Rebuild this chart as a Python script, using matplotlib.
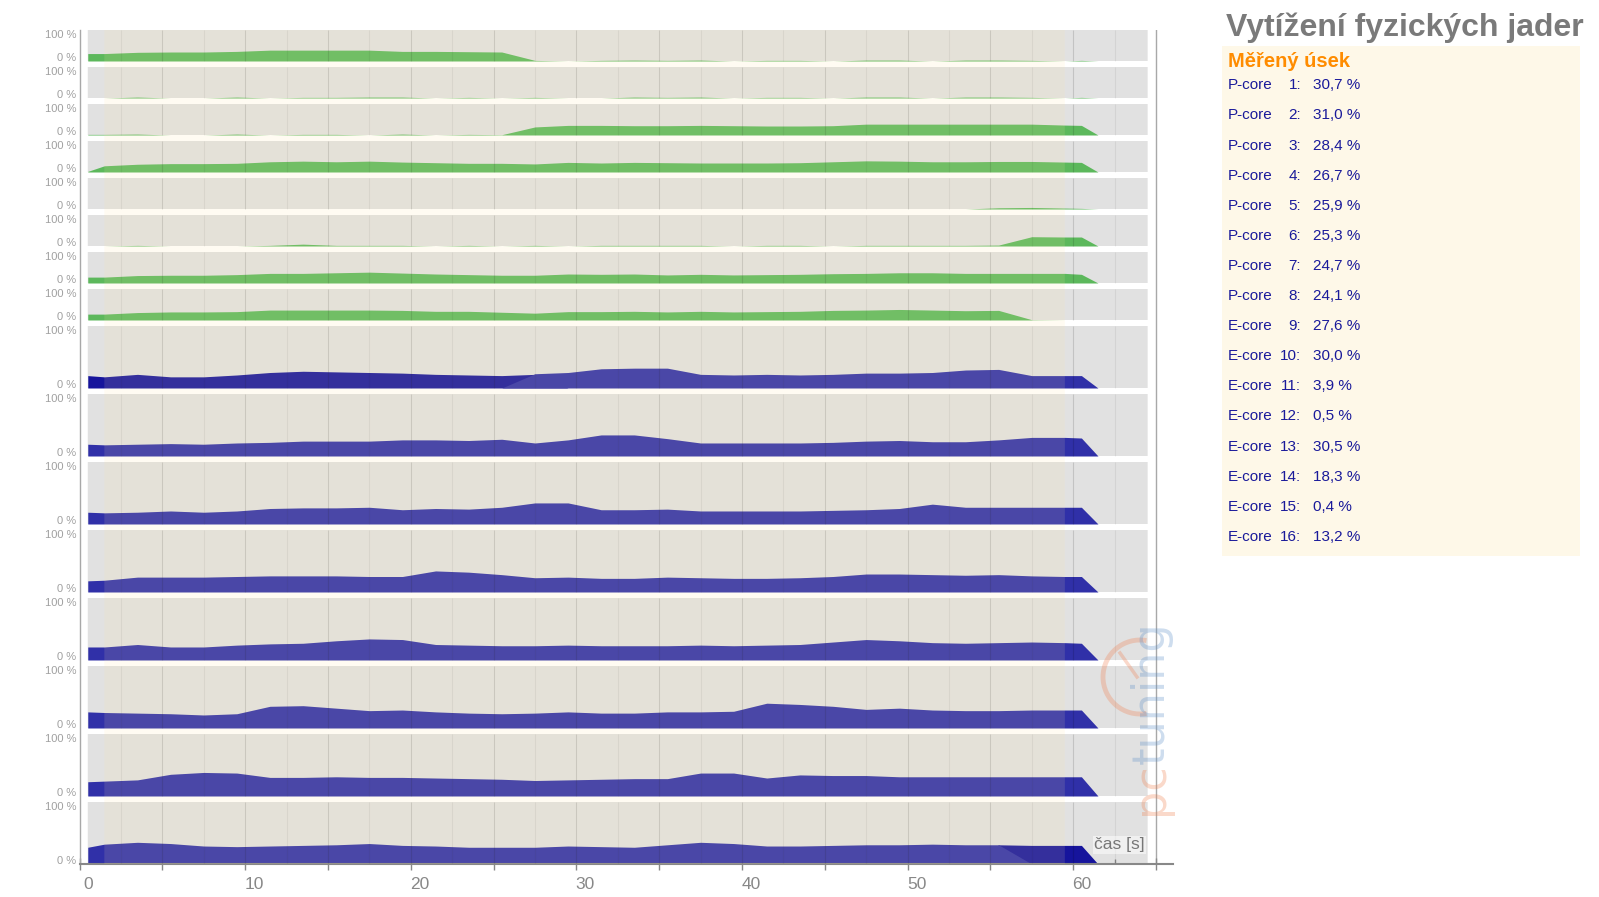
import numpy as np
import matplotlib.pyplot as plt
import matplotlib.transforms as mtransforms
from matplotlib.patches import Rectangle, Arc

plt.rcParams['font.family'] = ['Liberation Sans', 'DejaVu Sans']

# DATA (time in s, load in %)

T = [0.5, 1.5, 3.5, 5.5, 7.5, 9.5, 11.5, 13.5, 15.5, 17.5, 19.5, 21.5, 23.5, 25.5, 27.5,
     29.5, 31.5, 33.5, 35.5, 37.5, 39.5, 41.5, 43.5, 45.5, 47.5, 49.5, 51.5, 53.5, 55.5,
     57.5, 59.5, 60.5, 61.5]

P1 = [24, 24, 28, 29, 29, 31, 35, 35, 35, 35, 31, 31, 30, 29, 2, 0, 2, 3, 2, 3, 0, 2, 2, 0, 3, 3, 0, 3, 3, 2, 0, 2, 0]
P2 = [0, 0, 3, 0, 0, 3, 0, 2, 2, 3, 3, 0, 2, 0, 2, 0, 0, 3, 2, 3, 0, 2, 2, 0, 3, 3, 0, 3, 3, 2, 0, 2, 0]
P3 = [2, 2, 3, 0, 0, 3, 0, 2, 2, 0, 3, 0, 2, 1, 26, 31, 31, 30, 30, 31, 30, 29, 29, 30, 35, 35, 35, 35, 35, 35, 32, 31, 0]
P4 = [2, 20, 25, 27, 27, 28, 33, 35, 33, 35, 32, 30, 28, 28, 26, 31, 29, 31, 30, 29, 29, 29, 30, 33, 36, 35, 33, 33, 34, 34, 32, 31, 0]
P5 = [0, 0, 0, 0, 0, 0, 0, 0, 0, 0, 0, 0, 0, 0, 0, 0, 0, 0, 0, 0, 0, 0, 0, 0, 0, 0, 0, 0, 4, 5, 3, 2, 0]
P6 = [0, 0, 2, 0, 0, 0, 2, 6, 2, 2, 2, 0, 2, 0, 2, 0, 2, 2, 2, 2, 0, 2, 2, 0, 2, 2, 2, 2, 3, 30, 29, 29, 0]
P7 = [19, 19, 24, 25, 25, 27, 31, 31, 33, 35, 32, 29, 27, 25, 25, 29, 28, 29, 26, 28, 26, 27, 28, 30, 31, 33, 33, 31, 31, 31, 31, 28, 0]
P8 = [19, 19, 24, 26, 26, 27, 32, 32, 32, 32, 31, 28, 28, 25, 22, 27, 27, 28, 26, 28, 26, 27, 28, 31, 32, 34, 32, 30, 31, 1, 0, 0, 0]

E9_DARK = [20, 18, 22, 18, 18, 21, 25, 27, 26, 25, 24, 22, 21, 20, 22, 0, 0, 0, 0, 0, 0, 0, 0, 0, 0, 0, 0, 0, 0, 0, 0, 0, 0]
E9 = [0, 0, 0, 0, 0, 0, 0, 0, 0, 0, 0, 0, 0, 0, 23, 25, 31, 32, 32, 22, 21, 22, 21, 22, 24, 24, 25, 29, 30, 20, 20, 20, 0]
E10 = [19, 18, 19, 20, 19, 21, 22, 24, 24, 24, 26, 26, 25, 27, 21, 26, 34, 34, 28, 21, 21, 21, 21, 22, 24, 25, 23, 23, 26, 30, 30, 29, 0]
E11 = [19, 18, 19, 21, 19, 21, 25, 26, 26, 27, 23, 25, 24, 27, 34, 34, 23, 23, 24, 21, 21, 21, 21, 22, 23, 25, 32, 27, 27, 27, 27, 27, 0]
E12 = [18, 19, 24, 24, 24, 25, 26, 26, 26, 25, 25, 34, 32, 28, 23, 24, 22, 22, 24, 23, 22, 22, 23, 25, 29, 29, 28, 27, 28, 26, 25, 25, 0]
E13 = [21, 21, 25, 21, 21, 24, 26, 27, 31, 34, 33, 25, 24, 23, 23, 24, 23, 23, 23, 24, 23, 24, 25, 29, 33, 31, 28, 27, 28, 29, 28, 27, 0]
E14 = [26, 25, 24, 23, 21, 23, 35, 36, 32, 28, 29, 26, 24, 23, 24, 26, 24, 24, 26, 26, 27, 40, 38, 35, 30, 32, 29, 28, 28, 29, 29, 29, 0]
E15 = [23, 24, 26, 35, 38, 37, 30, 30, 31, 30, 30, 29, 28, 27, 25, 26, 27, 28, 28, 37, 37, 29, 34, 33, 33, 31, 31, 31, 31, 31, 31, 31, 0]
E16 = [27, 32, 35, 33, 29, 28, 29, 30, 31, 33, 30, 29, 27, 27, 27, 29, 28, 27, 31, 35, 33, 29, 29, 30, 31, 31, 32, 31, 31, 0, 0, 0, 0]
E16_DARK = [0, 0, 0, 0, 0, 0, 0, 0, 0, 0, 0, 0, 0, 0, 0, 0, 0, 0, 0, 0, 0, 0, 0, 0, 0, 0, 0, 0, 31, 30, 30, 30, 0]

CORE_TYPES = ['P-core'] * 8 + ['E-core'] * 8
CORE_IDS = list(range(1, 17))
AVERAGES = ['30,7', '31,0', '28,4', '26,7', '25,9', '25,3', '24,7', '24,1',
            '27,6', '30,0', '3,9', '0,5', '30,5', '18,3', '0,4', '13,2']

TITLE = 'Vytížení fyzických jader'
SUBTITLE = 'Měřený úsek'
XLABEL = 'čas [s]'

# VISUAL PARAMETERS

W, H = 1599, 897
GREEN = '#5cb85c'
BLUE = '#3030a8'
DARK_BLUE = '#16149c'
PANEL_BG = '#e1e1e1'
OVERLAY = '#ffe7a2'
P_TOP, P_PITCH, P_H = 30, 37, 31
E_TOP, E_PITCH, E_H = 326, 68, 62
BOTTOM = 864

rows = [[(P1, GREEN)], [(P2, GREEN)], [(P3, GREEN)], [(P4, GREEN)],
        [(P5, GREEN)], [(P6, GREEN)], [(P7, GREEN)], [(P8, GREEN)],
        [(E9_DARK, DARK_BLUE), (E9, BLUE)], [(E10, BLUE)], [(E11, BLUE)], [(E12, BLUE)],
        [(E13, BLUE)], [(E14, BLUE)], [(E15, BLUE)], [(E16_DARK, DARK_BLUE), (E16, BLUE)]]

fig = plt.figure(figsize=(W / 100, H / 100), dpi=100)
ax = fig.add_axes([79.5 / W, (H - BOTTOM) / H, 1093 / W, (BOTTOM - P_TOP) / H])
ax.set_xlim(0, 66)
ax.set_ylim(BOTTOM, P_TOP)

major_x = [5 * k for k in range(1, 13)]
minor_x = [5 * k + 2.5 for k in range(0, 13)]
t = np.array(T)

ytick_pos, ytick_lab = [], []
for i, series in enumerate(rows):
    if i < 8:
        top, h = P_TOP + P_PITCH * i, P_H
    else:
        top, h = E_TOP + E_PITCH * (i - 8), E_H
    bot = top + h
    ax.add_patch(Rectangle((0.5, top), 64, h, facecolor=PANEL_BG, edgecolor='none',
                           linewidth=0, snap=False, zorder=0))
    for vals, col in series:
        v = np.array(vals, dtype=float)
        ax.fill_between(t, bot, bot - v * h / 100, color=col, linewidth=0, zorder=2)
    ax.vlines(major_x, top, bot, color='black', alpha=0.13, linewidth=0.8, zorder=3)
    ax.vlines(minor_x, top, bot, color='black', alpha=0.06, linewidth=0.8, zorder=3)
    ytick_pos += [top + 4.3, bot - 4.3]
    ytick_lab += ['100 %', '0 %']

# measured section highlight
ax.add_patch(Rectangle((1.5, P_TOP), 58, BOTTOM - P_TOP, facecolor=OVERLAY, edgecolor='none',
                       linewidth=0, snap=False, alpha=0.13, zorder=4))
ax.plot([65, 65], [P_TOP, BOTTOM], color='#a8a8a8', linewidth=1, zorder=1)

ax.set_yticks(ytick_pos)
ax.set_yticklabels(ytick_lab)
ax.tick_params(axis='y', length=0, pad=2.2, labelsize=8, labelcolor='#a0a0a0')

ax.set_xticks(list(range(0, 70, 5)))
ax.set_xticklabels([str(v) if v % 10 == 0 and v <= 60 else '' for v in range(0, 70, 5)])
ax.set_xticks(minor_x, minor=True)
ax.tick_params(axis='x', which='major', direction='inout', length=8.6, width=1,
               color='#888888', pad=5, labelsize=12.5, labelcolor='#888888')
ax.tick_params(axis='x', which='minor', direction='in', length=3.6, width=1, color='#888888')
offset = mtransforms.ScaledTranslation(0.09, 0, fig.dpi_scale_trans)
for lab in ax.get_xticklabels():
    lab.set_transform(lab.get_transform() + offset)

for s in ['top', 'right']:
    ax.spines[s].set_visible(False)
ax.spines['left'].set_color('#a8a8a8')
ax.spines['left'].set_linewidth(1)
ax.spines['bottom'].set_color('#888888')
ax.spines['bottom'].set_linewidth(1.5)
ax.set_facecolor('white')

ax.text(62.8, 845, XLABEL, ha='center', va='center', fontsize=12.5, color='#777777', zorder=6,
        bbox=dict(facecolor='white', alpha=0.5, edgecolor='none', pad=1))

# watermark
px = mtransforms.IdentityTransform()
fig.text(1151 / W, 1 - 815 / H, 'pc', rotation=90, ha='center', va='bottom',
         family='DejaVu Sans', fontsize=32, color='#f08050', alpha=0.3)
fig.text(1151 / W, 1 - 764 / H, 'tuning', rotation=90, ha='center', va='bottom',
         family='DejaVu Sans', fontsize=32, color='#5b8fc9', alpha=0.3)
fig.add_artist(Arc((1140, H - 677), 74, 74, theta1=80, theta2=280, transform=px,
                   color='#f08050', linewidth=3.5, alpha=0.3))
fig.add_artist(plt.Line2D([1137, 1120], [H - 677, H - 653], transform=px,
                          color='#f08050', linewidth=2.5, alpha=0.3))

# right-hand summary box
fig.text(1226 / W, 1 - 35.8 / H, TITLE, fontsize=23, fontweight='bold',
         color='#7a7a7a', ha='left', va='baseline')
fig.add_artist(Rectangle((1222 / W, 1 - 556 / H), 358 / W, 510 / H, transform=fig.transFigure,
                         facecolor='#fef8e8', edgecolor='none', linewidth=0))
fig.text(1228 / W, 1 - 61.6 / H, SUBTITLE, fontsize=14.5, fontweight='bold',
         color='#ff8c00', ha='left', va='center')
for i in range(16):
    y = 1 - (85.3 + 30.1 * i) / H
    fig.text(1228 / W, y, CORE_TYPES[i], fontsize=11, color='#1a1a9a', ha='left', va='center')
    fig.text(1301 / W, y, f'{CORE_IDS[i]}:', fontsize=11, color='#1a1a9a', ha='right', va='center')
    fig.text(1313 / W, y, f'{AVERAGES[i]} %', fontsize=11, color='#1a1a9a', ha='left', va='center')

fig.savefig('out.png', dpi=100)
